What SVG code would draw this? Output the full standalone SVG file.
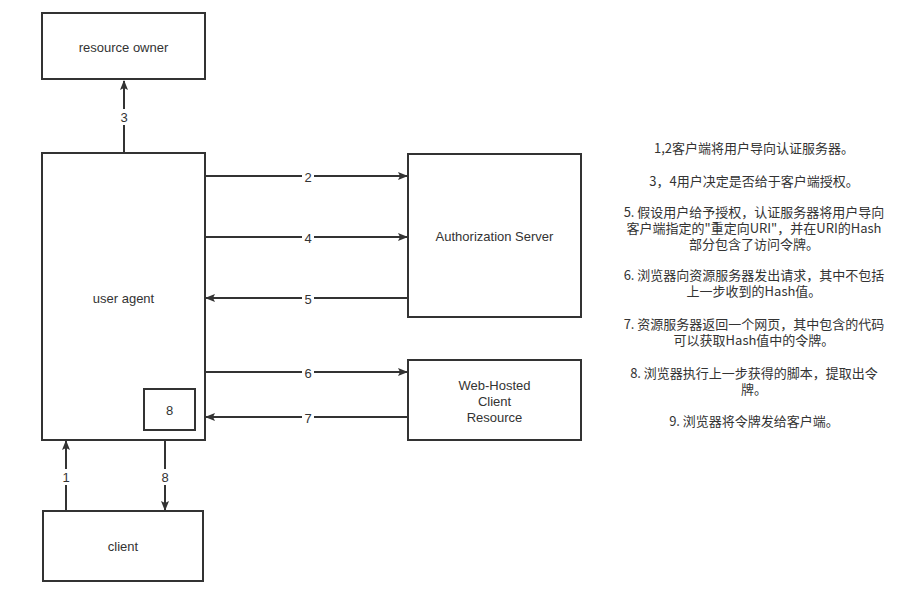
<svg xmlns="http://www.w3.org/2000/svg" width="904" height="590" viewBox="0 0 904 590">
<style>
.box{fill:#fff;stroke:#333;stroke-width:2}
.t{font-family:"Liberation Sans","Noto Sans CJK SC",sans-serif;font-size:13px;fill:#333;text-anchor:middle;dominant-baseline:central}
.c{fill:none;stroke:#333;stroke-width:2}
.lb{fill:#fff}
.n{font-family:"Noto Sans CJK SC","Liberation Sans",sans-serif;font-size:13px;fill:#333;text-anchor:middle}
</style>
<defs>
<marker id="ah" viewBox="0 0 10 8" refX="9" refY="4" markerWidth="10" markerHeight="8" markerUnits="userSpaceOnUse" orient="auto">
<path d="M0,0 L10,4 L0,8 L2,4 Z" fill="#333"/>
</marker>
</defs>
<rect width="904" height="590" fill="#fff"/>
<g id="connectors">
<line class="c" x1="124" y1="153" x2="124" y2="81" marker-end="url(#ah)"/>
<line class="c" x1="205" y1="176" x2="407" y2="176" marker-end="url(#ah)"/>
<line class="c" x1="205" y1="237" x2="407" y2="237" marker-end="url(#ah)"/>
<line class="c" x1="408" y1="298" x2="206" y2="298" marker-end="url(#ah)"/>
<line class="c" x1="205" y1="372" x2="407" y2="372" marker-end="url(#ah)"/>
<line class="c" x1="408" y1="417" x2="206" y2="417" marker-end="url(#ah)"/>
<line class="c" x1="66" y1="511" x2="66" y2="441" marker-end="url(#ah)"/>
<line class="c" x1="165" y1="440" x2="165" y2="510" marker-end="url(#ah)"/>
<rect class="lb" x="118" y="109" width="12" height="16"/>
<text class="t" x="124" y="117">3</text>
<rect class="lb" x="302" y="169" width="12" height="15"/>
<text class="t" x="308" y="177">2</text>
<rect class="lb" x="302" y="230" width="12" height="15"/>
<text class="t" x="308" y="238">4</text>
<rect class="lb" x="302" y="291" width="12" height="15"/>
<text class="t" x="308" y="299">5</text>
<rect class="lb" x="302" y="365" width="12" height="15"/>
<text class="t" x="308" y="373">6</text>
<rect class="lb" x="302" y="410" width="12" height="15"/>
<text class="t" x="308" y="418">7</text>
<rect class="lb" x="60" y="469" width="12" height="16"/>
<text class="t" x="66" y="477">1</text>
<rect class="lb" x="159" y="469" width="12" height="16"/>
<text class="t" x="165" y="477">8</text>
</g>
<g id="resource-owner">
<rect class="box" x="42" y="13" width="163" height="66"/>
<text class="t" x="123.5" y="47">resource owner</text>
</g>
<g id="user-agent">
<rect class="box" x="42" y="153" width="163" height="287"/>
<text class="t" x="123.5" y="298">user agent</text>
</g>
<g id="box-8">
<rect class="box" x="144" y="389" width="51" height="41"/>
<text class="t" x="169.5" y="410">8</text>
</g>
<g id="authorization-server">
<rect class="box" x="408" y="154" width="173" height="163"/>
<text class="t" x="494.5" y="236">Authorization Server</text>
</g>
<g id="web-hosted">
<rect class="box" x="408" y="360" width="173" height="80"/>
<text class="t" x="494.5" y="385">Web-Hosted</text>
<text class="t" x="494.5" y="401">Client</text>
<text class="t" x="494.5" y="417">Resource</text>
</g>
<g id="client">
<rect class="box" x="43" y="511" width="160" height="70"/>
<text class="t" x="123" y="546">client</text>
</g>
<g id="notes">
<text class="n" x="754" y="153">1,2客户端将用户导向认证服务器。</text>
<text class="n" x="754" y="186">3，4用户决定是否给于客户端授权。</text>
<text class="n" x="754" y="217">5. 假设用户给予授权，认证服务器将用户导向</text>
<text class="n" x="754" y="233">客户端指定的"重定向URI"，并在URI的Hash</text>
<text class="n" x="754" y="249">部分包含了访问令牌。</text>
<text class="n" x="754" y="280">6. 浏览器向资源服务器发出请求，其中不包括</text>
<text class="n" x="754" y="296">上一步收到的Hash值。</text>
<text class="n" x="754" y="329">7. 资源服务器返回一个网页，其中包含的代码</text>
<text class="n" x="754" y="345">可以获取Hash值中的令牌。</text>
<text class="n" x="754" y="378">8. 浏览器执行上一步获得的脚本，提取出令</text>
<text class="n" x="754" y="394">牌。</text>
<text class="n" x="754" y="426">9. 浏览器将令牌发给客户端。</text>
</g>
</svg>
